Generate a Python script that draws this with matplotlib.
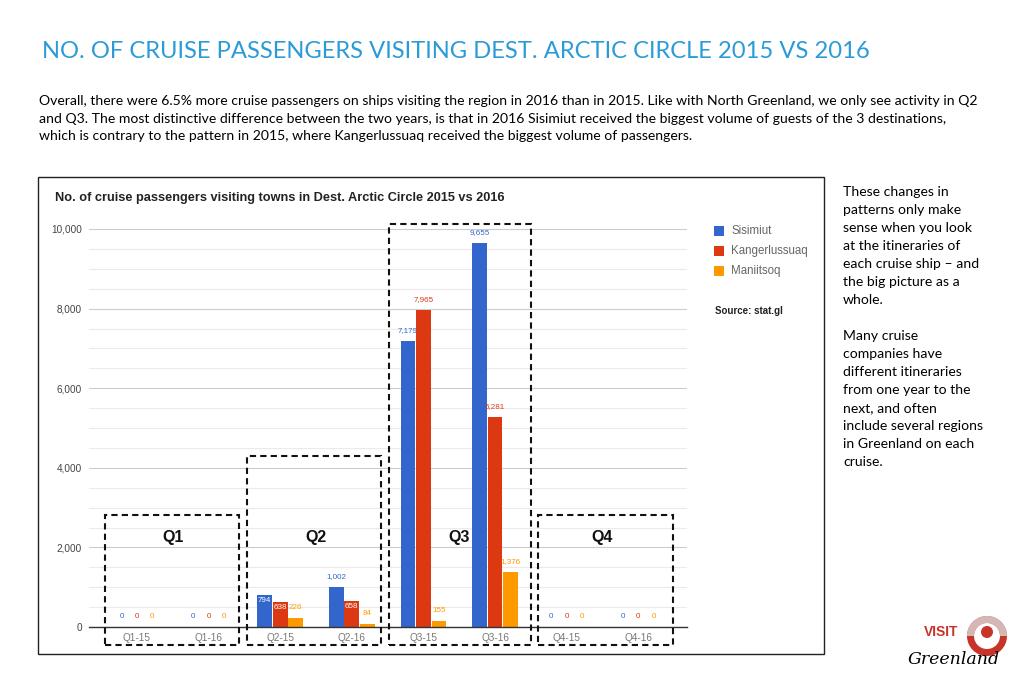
import matplotlib
matplotlib.use('Agg')
import matplotlib.pyplot as plt
import matplotlib.patches as mpatches
from matplotlib.patches import Rectangle, Circle, Wedge
from matplotlib.ticker import MultipleLocator, FuncFormatter
import numpy as np

# ---- data ----
categories = ['Q1-15', 'Q1-16', 'Q2-15', 'Q2-16', 'Q3-15', 'Q3-16', 'Q4-15', 'Q4-16']
sisimiut = [0, 0, 794, 1002, 7179, 9655, 0, 0]
kangerlussuaq = [0, 0, 638, 658, 7965, 5281, 0, 0]
maniitsoq = [0, 0, 226, 84, 155, 1376, 0, 0]
series_names = ['Sisimiut', 'Kangerlussuaq', 'Maniitsoq']
quarters = ['Q1', 'Q2', 'Q3', 'Q4']

c_blue = '#3366CC'
c_red = '#DC3912'
c_orange = '#FF9900'
c_title = '#2B9BD8'
body_font = ['Lato', 'DejaVu Sans']
chart_font = ['Liberation Sans', 'DejaVu Sans']

W, H = 1024, 683
fig = plt.figure(figsize=(W / 100, H / 100), dpi=100)
fig.patch.set_facecolor('white')

# full-page overlay in pixel coords
bg = fig.add_axes([0, 0, 1, 1])
bg.set_xlim(0, W)
bg.set_ylim(H, 0)
bg.axis('off')

bg.text(42, 52, 'NO. OF CRUISE PASSENGERS VISITING DEST. ARCTIC CIRCLE 2015 VS 2016',
        fontsize=17.1, color=c_title, va='center', ha='left', family=body_font)

para = ('Overall, there were 6.5% more cruise passengers on ships visiting the region in 2016 than in 2015. Like with North Greenland, we only see activity in Q2\n'
        'and Q3. The most distinctive difference between the two years, is that in 2016 Sisimiut received the biggest volume of guests of the 3 destinations,\n'
        'which is contrary to the pattern in 2015, where Kangerlussuaq received the biggest volume of passengers.')
bg.text(39, 95, para, fontsize=10.1, color='black', va='top', ha='left',
        linespacing=1.57, family=body_font)

side = ('These changes in\npatterns only make\nsense when you look\nat the itineraries of\neach cruise ship \u2013 and\n'
        'the big picture as a\nwhole.\n\nMany cruise\ncompanies have\ndifferent itineraries\nfrom one year to the\n'
        'next, and often\ninclude several regions\nin Greenland on each\ncruise.')
bg.text(843, 186, side, fontsize=10.1, color='black', va='top', ha='left',
        linespacing=1.6, family=body_font)

# chart frame
bg.add_patch(Rectangle((38, 177), 786, 477, fill=False, edgecolor='#222222', lw=1.0))
bg.text(55, 198, 'No. of cruise passengers visiting towns in Dest. Arctic Circle 2015 vs 2016',
        fontsize=9.2, weight='bold', color='#222222', va='center', ha='left', family=chart_font)

# legend
for i, (name, col) in enumerate(zip(series_names, [c_blue, c_red, c_orange])):
    yy = 231 + i * 20
    bg.add_patch(Rectangle((714, yy - 5), 10, 10, facecolor=col, edgecolor='none'))
    bg.text(731, yy, name, fontsize=8.3, color='#666666', va='center', ha='left', family=chart_font)
bg.text(715, 311, 'Source: stat.gl', fontsize=7, weight='bold', color='#222222',
        va='center', ha='left', family=chart_font)

# logo
bg.add_patch(Wedge((987, 636), 20, 0, 360, width=7, facecolor='#C8342A', edgecolor='none'))
bg.add_patch(Wedge((987, 636), 20, 180, 360, width=7, facecolor='#D9D9D9', edgecolor='none', alpha=0.8))
bg.add_patch(Circle((987, 632), 6, facecolor='#C8342A', edgecolor='none'))
bg.text(924, 632, 'VISIT', fontsize=10, weight='bold', color='#C8342A', va='center', ha='left',
        family=chart_font)
bg.text(908, 660, 'Greenland', fontsize=12.5, style='italic', color='black', va='center', ha='left',
        family=['DejaVu Serif'])

# ---- bar chart ----
ax = fig.add_axes([89 / W, (H - 627) / H, 598 / W, 398 / H])
ax.set_facecolor('none')
x = np.arange(len(categories))
bw = 0.205
offsets = [-0.215, 0.0, 0.215]
all_series = [sisimiut, kangerlussuaq, maniitsoq]
colors = [c_blue, c_red, c_orange]

for vals, off, col in zip(all_series, offsets, colors):
    ax.bar(x + off, vals, width=bw, color=col, zorder=3)
    for xi, v in zip(x, vals):
        if 500 < v < 900:
            ax.annotate(f'{v:,}', (xi + off, v), xytext=(0, -1.5), textcoords='offset points',
                        ha='center', va='top', fontsize=5.8, color='white', zorder=4,
                        family=chart_font)
        else:
            ax.annotate(f'{v:,}', (xi + off, v), xytext=(0, 5), textcoords='offset points',
                        ha='center', va='bottom', fontsize=5.8, color=col, zorder=4,
                        family=chart_font)

ax.set_xlim(-0.67, 7.68)
ax.set_ylim(0, 10000)
ax.yaxis.set_major_locator(MultipleLocator(2000))
ax.yaxis.set_minor_locator(MultipleLocator(500))
ax.yaxis.set_major_formatter(FuncFormatter(lambda v, p: f'{int(v):,}'))
ax.grid(axis='y', which='major', color='#CCCCCC', lw=0.8, zorder=0)
ax.grid(axis='y', which='minor', color='#EBEBEB', lw=0.8, zorder=0)
ax.set_xticks(x)
ax.set_xticklabels(categories)
ax.tick_params(axis='both', which='both', length=0)
ax.tick_params(axis='y', labelsize=7.2, labelcolor='#444444', pad=5)
ax.tick_params(axis='x', labelsize=7.2, labelcolor='#777777', pad=4)
for lab in ax.get_xticklabels() + ax.get_yticklabels():
    lab.set_family(chart_font)
for s in ['top', 'right', 'left']:
    ax.spines[s].set_visible(False)
ax.spines['bottom'].set_color('#333333')
ax.spines['bottom'].set_linewidth(1.0)
ax.spines['bottom'].set_zorder(5)

# dashed quarter boxes
box_tops = [2810, 4300, 10130, 2810]
box_ranges = [(-0.45, 1.43), (1.54, 3.41), (3.52, 5.50), (5.60, 7.49)]
for q, top, (x0, x1) in zip(quarters, box_tops, box_ranges):
    ax.add_patch(Rectangle((x0, -450), x1 - x0, top + 450, fill=False, edgecolor='#111111',
                           lw=1.5, linestyle=(0, (3, 2)), clip_on=False, zorder=6))
    ax.text(2 * quarters.index(q) + 0.5, 2240, q, fontsize=11.5, weight='bold', ha='center',
            va='center', color='#111111', family=chart_font, zorder=6)

plt.savefig('out.png', dpi=100, facecolor='white')
